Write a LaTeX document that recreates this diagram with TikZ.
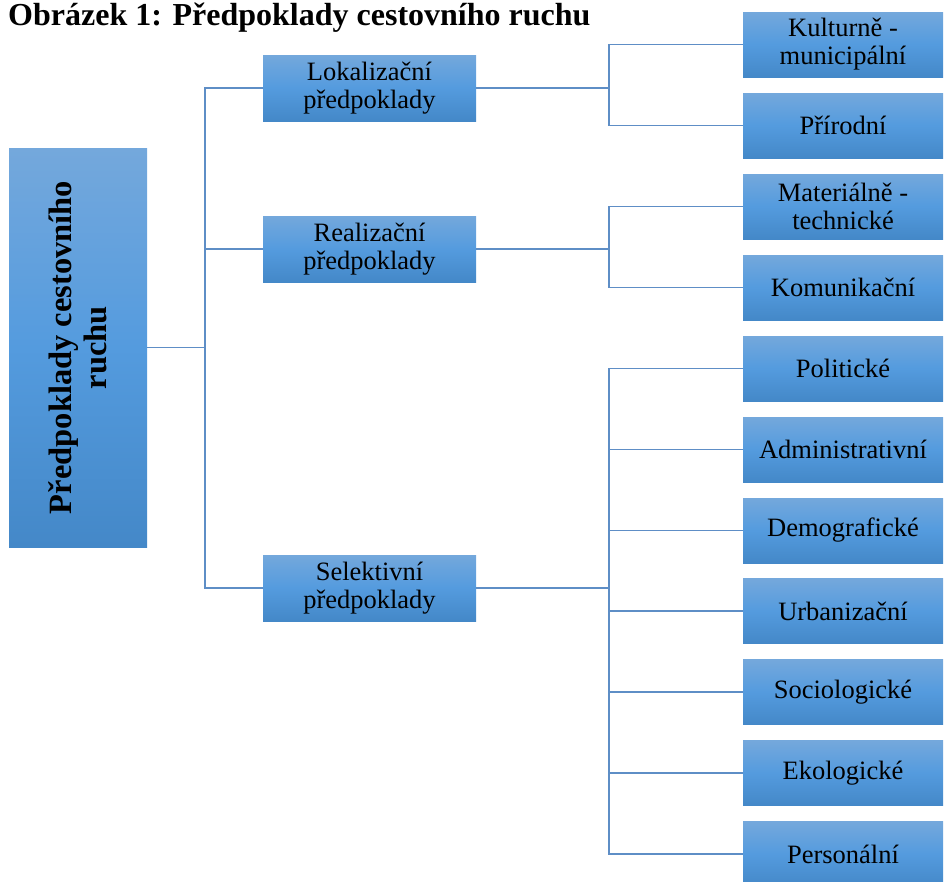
\documentclass[tikz,border=0pt]{standalone}
\usepackage{fontspec}
\setmainfont{Liberation Serif}
\definecolor{lineblue}{RGB}{94,142,198}
\definecolor{boxtop}{RGB}{116,168,220}
\definecolor{boxmid}{RGB}{84,155,222}
\definecolor{boxbot}{RGB}{68,136,200}
\tikzset{
  box/.style={rectangle, inner sep=0pt, top color=boxtop, bottom color=boxbot, middle color=boxmid,
    align=center, text=black, font=\fontsize{26.5}{28}\selectfont},
  lvlone/.style={box, minimum width=213pt, minimum height=66pt},
  lvltwo/.style={box, minimum width=200pt, minimum height=65pt},
  conn/.style={draw=lineblue, line width=1.5pt}
}
\begin{document}
\begin{tikzpicture}[x=1pt,y=-1pt]
\useasboundingbox (0,0) rectangle (944,881);
\clip (0,0) rectangle (944,881);
\node[anchor=base west, inner sep=0pt, font=\bfseries\fontsize{32}{34}\selectfont] (title) at (8,25) {Obrázek 1: Předpoklady cestovního ruchu};
% root
\node[box, minimum width=138pt, minimum height=399pt] (root) at (78,347.5) {};
\node[rotate=90, align=center, inner sep=0pt, font=\bfseries\fontsize{32.5}{35}\selectfont] (rootlabel) at (root.center) {Předpoklady cestovního\\ruchu};
% level 1
\node[lvlone] (lok) at (369.5,88) {Lokalizační\\předpoklady};
\node[lvlone] (real) at (369.5,249) {Realizační\\předpoklady};
\node[lvlone] (sel) at (369.5,588) {Selektivní\\předpoklady};
% level 2
\node[lvltwo] (kul) at (843,44.5) {Kulturně -\\municipální};
\node[lvltwo] (pri) at (843,125.5) {Přírodní};
\node[lvltwo] (mat) at (843,206.5) {Materiálně -\\technické};
\node[lvltwo] (kom) at (843,287.5) {Komunikační};
\node[lvltwo] (pol) at (843,368.5) {Politické};
\node[lvltwo] (adm) at (843,449.5) {Administrativní};
\node[lvltwo] (dem) at (843,530.5) {Demografické};
\node[lvltwo] (urb) at (843,611) {Urbanizační};
\node[lvltwo] (soc) at (843,692) {Sociologické};
\node[lvltwo] (eko) at (843,773) {Ekologické};
\node[lvltwo] (per) at (843,854) {Personální};
% bus coordinates
\coordinate (bl) at (205,0);
\coordinate (br) at (609,0);
% left connectors
\draw[conn] (root.east) -- (root.east -| bl);
\draw[conn] (lok.west) -| (bl |- sel.west) -- (sel.west);
\draw[conn] (real.west) -- (real.west -| bl);
% right connectors
\draw[conn] (lok.east) -- (lok.east -| br);
\draw[conn] (kul.west) -| (br |- pri.west) -- (pri.west);
\draw[conn] (real.east) -- (real.east -| br);
\draw[conn] (mat.west) -| (br |- kom.west) -- (kom.west);
\draw[conn] (sel.east) -- (sel.east -| br);
\draw[conn] (pol.west) -| (br |- per.west) -- (per.west);
\draw[conn] (adm.west) -- (adm.west -| br);
\draw[conn] (dem.west) -- (dem.west -| br);
\draw[conn] (urb.west) -- (urb.west -| br);
\draw[conn] (soc.west) -- (soc.west -| br);
\draw[conn] (eko.west) -- (eko.west -| br);
\end{tikzpicture}
\end{document}
